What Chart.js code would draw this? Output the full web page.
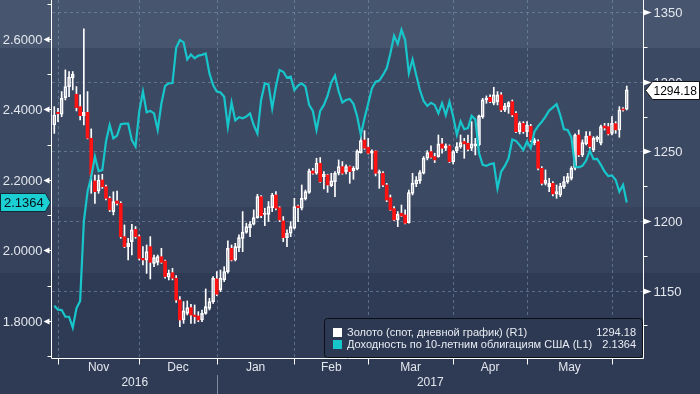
<!DOCTYPE html>
<html><head><meta charset="utf-8">
<script src="https://cdn.jsdelivr.net/npm/chart.js@4.4.1/dist/chart.umd.min.js"></script>
<style>html,body{margin:0;padding:0;background:#2f3b55;overflow:hidden}#wrap{width:700px;height:394px;position:relative}</style>
</head><body><div id="wrap"><canvas id="c" width="700" height="394"></canvas></div>
<script>
const dates = ['2016-10-31',
'2016-11-01','2016-11-02','2016-11-03','2016-11-04','2016-11-07','2016-11-08','2016-11-09','2016-11-10','2016-11-11','2016-11-14','2016-11-15','2016-11-16','2016-11-17','2016-11-18','2016-11-21','2016-11-22','2016-11-23','2016-11-24','2016-11-25','2016-11-28','2016-11-29','2016-11-30',
'2016-12-01','2016-12-02','2016-12-05','2016-12-06','2016-12-07','2016-12-08','2016-12-09','2016-12-12','2016-12-13','2016-12-14','2016-12-15','2016-12-16','2016-12-19','2016-12-20','2016-12-21','2016-12-22','2016-12-23','2016-12-27','2016-12-28','2016-12-29','2016-12-30',
'2017-01-03','2017-01-04','2017-01-05','2017-01-06','2017-01-09','2017-01-10','2017-01-11','2017-01-12','2017-01-13','2017-01-16','2017-01-17','2017-01-18','2017-01-19','2017-01-20','2017-01-23','2017-01-24','2017-01-25','2017-01-26','2017-01-27','2017-01-30','2017-01-31',
'2017-02-01','2017-02-02','2017-02-03','2017-02-06','2017-02-07','2017-02-08','2017-02-09','2017-02-10','2017-02-13','2017-02-14','2017-02-15','2017-02-16','2017-02-17','2017-02-20','2017-02-21','2017-02-22','2017-02-23','2017-02-24','2017-02-27','2017-02-28',
'2017-03-01','2017-03-02','2017-03-03','2017-03-06','2017-03-07','2017-03-08','2017-03-09','2017-03-10','2017-03-13','2017-03-14','2017-03-15','2017-03-16','2017-03-17','2017-03-20','2017-03-21','2017-03-22','2017-03-23','2017-03-24','2017-03-27','2017-03-28','2017-03-29','2017-03-30','2017-03-31',
'2017-04-03','2017-04-04','2017-04-05','2017-04-06','2017-04-07','2017-04-10','2017-04-11','2017-04-12','2017-04-13','2017-04-14','2017-04-17','2017-04-18','2017-04-19','2017-04-20','2017-04-21','2017-04-24','2017-04-25','2017-04-26','2017-04-27','2017-04-28',
'2017-05-01','2017-05-02','2017-05-03','2017-05-04','2017-05-05','2017-05-08','2017-05-09','2017-05-10','2017-05-11','2017-05-12','2017-05-15','2017-05-16','2017-05-17','2017-05-18','2017-05-19','2017-05-22','2017-05-23','2017-05-24','2017-05-25','2017-05-26','2017-05-29','2017-05-30','2017-05-31',
'2017-06-01','2017-06-02','2017-06-05','2017-06-06','2017-06-07'];

const goldOpen = [1269.0,1278.1,1276.7,1288.7,1296.6,1303.0,1291.1,1282.2,1275.7,1278.1,1259.5,1228.8,1221.6,1229.5,1224.7,1216.3,1206.8,1214.4,1212.7,1188.8,1181.6,1185.2,1194.0,
1188.8,1173.2,1172.0,1181.6,1169.6,1170.3,1174.4,1171.3,1159.6,1162.9,1158.9,1143.3,1128.9,1133.7,1137.8,1132.5,1131.8,1128.9,1133.7,1137.3,1142.1,
1158.4,1150.5,1157.7,1163.7,1180.4,1172.0,1180.9,1187.6,1191.9,1195.3,1197.7,1202.4,1217.5,1204.8,1204.8,1209.6,1218.7,1209.6,1200.1,1188.1,1191.2,
1194.8,1210.8,1209.2,1215.9,1220.6,1236.0,1234.3,1241.5,1231.9,1233.1,1225.4,1228.3,1234.3,1239.1,1235.5,1239.1,1236.2,1237.2,1249.2,1258.2,
1253.0,1248.7,1250.3,1234.3,1234.3,1225.9,1216.8,1208.9,1200.8,1205.6,1204.4,1198.9,1219.9,1226.6,1229.0,1234.3,1245.1,1249.9,1246.3,1246.3,1255.4,1252.3,1254.0,
1242.7,1250.6,1253.5,1257.1,1255.9,1252.3,1254.0,1254.7,1275.0,1287.0,1288.9,1284.6,1285.8,1290.6,1279.8,1282.2,1285.8,1277.4,1264.2,1270.2,
1264.2,1268.0,1256.3,1257.1,1237.9,1227.1,1224.7,1227.1,1219.5,1218.7,1224.7,1228.3,1230.7,1237.9,1261.8,1247.5,1255.4,1261.1,1251.1,1258.7,1255.9,1268.3,1267.8,
1263.0,1270.0,1265.4,1280.3,1280.3];
const goldHigh = [1282.2,1281.0,1293.0,1308.6,1307.4,1307.4,1296.6,1290.6,1338.0,1293.0,1266.2,1233.1,1233.1,1233.6,1225.9,1217.5,1221.0,1221.6,1213.9,1197.2,1187.6,1197.7,1196.0,
1190.0,1181.6,1182.8,1188.8,1175.6,1175.6,1180.4,1172.0,1164.8,1166.0,1160.8,1145.7,1142.1,1142.6,1140.2,1139.7,1134.9,1136.1,1151.2,1144.5,1160.1,
1163.7,1164.8,1167.2,1185.7,1182.8,1184.0,1190.0,1206.8,1198.4,1199.6,1208.0,1219.2,1218.3,1209.2,1214.0,1219.9,1221.1,1210.3,1203.2,1193.6,1199.6,
1216.3,1211.5,1225.9,1222.3,1237.4,1237.9,1245.1,1245.6,1235.5,1233.6,1234.3,1235.5,1243.9,1242.7,1240.3,1239.6,1239.1,1251.1,1264.2,1264.9,
1259.4,1251.1,1250.5,1236.7,1235.5,1227.1,1218.7,1210.3,1206.8,1211.5,1208.0,1222.3,1234.3,1231.9,1236.2,1246.3,1250.6,1254.0,1248.7,1261.8,1259.4,1255.4,1254.7,
1250.6,1256.3,1261.8,1259.4,1261.8,1271.4,1259.4,1276.2,1288.2,1289.9,1290.6,1296.1,1293.0,1292.3,1284.6,1285.8,1287.0,1278.6,1271.4,1271.4,
1271.4,1269.5,1259.4,1258.3,1239.1,1236.7,1230.7,1228.3,1225.9,1227.1,1231.9,1234.3,1239.1,1262.6,1265.4,1258.3,1264.2,1264.2,1260.6,1261.1,1269.0,1270.2,1270.2,
1275.0,1271.4,1282.2,1281.5,1297.0];
const goldLow = [1263.0,1271.4,1275.0,1287.0,1289.4,1294.2,1279.1,1272.6,1269.0,1259.0,1219.9,1212.7,1219.9,1223.5,1215.1,1206.8,1204.4,1211.5,1187.6,1180.9,1172.0,1175.6,1187.6,
1172.0,1168.4,1162.4,1158.4,1167.2,1168.4,1169.6,1158.9,1157.7,1157.7,1141.6,1124.1,1126.5,1132.5,1126.5,1126.5,1127.7,1127.7,1133.0,1136.1,1140.9,
1146.4,1149.3,1156.5,1162.5,1171.3,1171.3,1178.0,1178.0,1191.2,1188.8,1197.2,1202.0,1202.4,1196.7,1199.6,1206.8,1208.0,1199.6,1185.2,1181.6,1188.8,
1194.3,1199.6,1208.0,1215.1,1219.9,1233.6,1233.6,1227.8,1223.0,1220.6,1224.7,1217.5,1233.1,1233.6,1233.8,1227.1,1230.0,1236.7,1248.7,1251.5,
1248.2,1237.2,1232.4,1223.5,1224.7,1213.9,1207.5,1200.3,1196.0,1203.2,1197.9,1198.4,1218.7,1224.7,1227.1,1233.8,1243.9,1245.1,1242.0,1245.8,1248.7,1250.6,1242.0,
1241.0,1249.2,1252.3,1245.1,1250.6,1250.6,1247.5,1254.0,1273.8,1284.6,1285.1,1283.5,1283.4,1278.6,1278.6,1277.4,1275.0,1263.5,1262.6,1263.0,
1260.6,1257.0,1254.7,1236.7,1225.9,1225.9,1221.1,1218.0,1216.3,1217.5,1223.5,1227.1,1229.5,1236.7,1246.3,1246.3,1254.7,1252.3,1249.9,1257.1,1254.7,1265.4,1261.8,
1261.8,1263.0,1260.2,1279.0,1279.8];
const goldClose = [1276.2,1277.2,1288.2,1296.6,1303.3,1305.5,1281.5,1275.7,1278.1,1259.5,1233.1,1221.1,1229.5,1224.7,1216.3,1208.0,1214.0,1212.7,1188.8,1181.6,1184.0,1193.6,1188.8,
1173.2,1172.0,1178.0,1170.3,1173.7,1174.4,1170.3,1160.1,1162.5,1158.9,1143.3,1128.9,1135.4,1137.8,1132.5,1131.3,1128.9,1133.7,1138.5,1142.1,1158.9,
1147.4,1158.9,1163.7,1180.4,1172.0,1181.6,1188.1,1191.9,1196.0,1197.7,1202.4,1217.5,1203.9,1205.8,1210.3,1218.7,1209.2,1200.8,1188.1,1191.2,1196.0,
1210.3,1209.6,1216.3,1221.1,1236.0,1234.3,1241.5,1228.3,1233.6,1225.9,1228.8,1234.3,1239.1,1234.3,1239.1,1235.5,1237.9,1250.3,1257.8,1252.3,
1248.7,1250.3,1234.3,1235.5,1225.9,1215.1,1207.9,1200.8,1204.8,1203.6,1198.4,1220.4,1227.1,1229.5,1234.8,1245.1,1249.2,1245.8,1243.9,1255.4,1252.3,1254.0,1242.7,
1249.9,1253.5,1256.3,1255.4,1251.5,1255.4,1255.4,1275.5,1287.0,1288.2,1285.8,1290.6,1290.6,1279.8,1282.7,1285.1,1276.2,1264.2,1270.2,1264.2,
1269.0,1258.0,1258.3,1237.9,1227.1,1229.5,1227.1,1219.5,1221.1,1225.2,1228.3,1231.9,1237.9,1261.8,1247.5,1256.3,1261.1,1253.5,1259.4,1260.1,1267.8,1266.8,1262.6,
1270.2,1265.5,1279.8,1279.8,1294.18];
const yield10 = [1.843,1.832,1.831,1.812,1.812,1.781,1.836,1.857,2.082,2.167,2.209,2.266,2.225,2.228,2.309,2.356,2.318,2.326,2.358,2.360,2.360,2.313,2.295,
2.394,2.451,2.392,2.396,2.389,2.342,2.417,2.467,2.474,2.475,2.575,2.597,2.591,2.542,2.556,2.545,2.553,2.555,2.559,2.503,2.469,
2.451,2.448,2.436,2.351,2.420,2.369,2.378,2.375,2.380,2.389,2.356,2.332,2.427,2.474,2.471,2.403,2.465,2.512,2.507,2.490,2.493,
2.455,2.468,2.474,2.465,2.413,2.396,2.342,2.396,2.413,2.439,2.477,2.496,2.451,2.420,2.427,2.430,2.416,2.381,2.328,2.375,
2.417,2.460,2.479,2.482,2.498,2.517,2.559,2.609,2.586,2.626,2.597,2.503,2.542,2.498,2.455,2.424,2.410,2.419,2.413,2.389,2.418,2.384,2.422,
2.380,2.328,2.366,2.344,2.347,2.382,2.372,2.276,2.243,2.240,2.245,2.247,2.176,2.224,2.240,2.261,2.315,2.311,2.299,2.285,
2.309,2.290,2.337,2.353,2.365,2.380,2.397,2.406,2.415,2.384,2.344,2.342,2.321,2.238,2.236,2.240,2.255,2.283,2.259,2.260,2.243,2.224,2.211,
2.213,2.200,2.167,2.186,2.1364];

const leftTicks = [2.6, 2.4, 2.2, 2.0, 1.8];
const leftMinorTicks = [2.7, 2.5, 2.3, 2.1, 1.9, 1.7];
const rightTicks = [1350, 1300, 1250, 1200, 1150];
const rightMinorTicks = [1325, 1275, 1225, 1175, 1125];
const monthLabels = ['Nov', 'Dec', 'Jan', 'Feb', 'Mar', 'Apr', 'May'];
const yearLabels = ['2016', '2017'];
const seriesNames = ['Золото (спот, дневной график) (R1)', 'Доходность по 10-летним облигациям США (L1)'];
const lastGold = '1294.18';
const lastYield = '2.1364';

// library data built from the arrays
const bodyData = dates.map((d, i) => ({x: i, y: [goldOpen[i], goldClose[i]]}));
const wickHiData = dates.map((d, i) => ({x: i, y: [Math.max(goldOpen[i], goldClose[i]), goldHigh[i]]}));
const wickLoData = dates.map((d, i) => ({x: i, y: [goldLow[i], Math.min(goldOpen[i], goldClose[i])]}));
const lineData = dates.map((d, i) => ({x: i, y: yield10[i]}));
const monthStarts = [];
dates.forEach((d, i) => { if (i > 0 && d.slice(5, 7) !== dates[i - 1].slice(5, 7)) monthStarts.push(i); });
const yearStart = dates.findIndex(d => d.startsWith('2017'));

const FONT = '"Liberation Sans", Arial, sans-serif';
const UP = i => goldClose[i] >= goldOpen[i];
const CYAN = '#17c6cb';
const RED = '#ff1212';

const deco = {
  id: 'deco',
  beforeDraw(chart) {
    const ctx = chart.ctx;
    const bands = [[0, 48, '#47556e'], [48, 207, '#3c4963'], [207, 273, '#36425b'], [273, 394, '#2f3b55']];
    ctx.save();
    bands.forEach(b => { ctx.fillStyle = b[2]; ctx.fillRect(0, b[0], chart.width, b[1] - b[0]); });
    ctx.restore();
  },
  beforeDatasetsDraw(chart) {
    const ctx = chart.ctx, a = chart.chartArea, s = chart.scales;
    ctx.save();
    ctx.strokeStyle = 'rgba(120,145,175,0.6)';
    ctx.lineWidth = 1;
    ctx.setLineDash([3, 3]);
    rightTicks.forEach(v => {
      const y = Math.round(s.yR.getPixelForValue(v)) + 0.5;
      ctx.beginPath(); ctx.moveTo(a.left, y); ctx.lineTo(a.right, y); ctx.stroke();
    });
    monthStarts.forEach(i => {
      const x = Math.round(s.x.getPixelForValue(i)) + 0.5;
      ctx.beginPath(); ctx.moveTo(x, a.top); ctx.lineTo(x, a.bottom); ctx.stroke();
    });
    ctx.restore();
  },
  afterDraw(chart) {
    const ctx = chart.ctx, a = chart.chartArea, s = chart.scales;
    ctx.save();
    ctx.strokeStyle = '#ffffff'; ctx.fillStyle = '#ffffff'; ctx.lineWidth = 1;
    const L = Math.round(a.left) - 0.5, R = Math.round(a.right) + 0.5, B = Math.round(a.bottom) + 0.5;
    // axis lines
    ctx.beginPath(); ctx.moveTo(L, 0); ctx.lineTo(L, B); ctx.lineTo(R, B); ctx.moveTo(R, 0); ctx.lineTo(R, B); ctx.stroke();
    // left axis
    ctx.font = '13px ' + FONT; ctx.textBaseline = 'middle';
    leftMinorTicks.forEach(v => {
      const y = Math.round(s.yL.getPixelForValue(v)) + 0.5;
      ctx.beginPath(); ctx.moveTo(L - 4, y); ctx.lineTo(L, y); ctx.stroke();
    });
    leftTicks.forEach(v => {
      const y = Math.round(s.yL.getPixelForValue(v)) + 0.5;
      ctx.fillStyle = '#ffffff';
      ctx.beginPath(); ctx.moveTo(L - 8, y); ctx.lineTo(L - 2, y - 3); ctx.lineTo(L - 2, y + 3); ctx.closePath(); ctx.fill();
      ctx.beginPath(); ctx.moveTo(L - 3, y); ctx.lineTo(L, y); ctx.stroke();
      ctx.fillStyle = '#e3e7ee'; ctx.textAlign = 'right';
      ctx.fillText(v.toFixed(4), L - 9, y + 1);
    });
    // right axis
    rightMinorTicks.forEach(v => {
      const y = Math.round(s.yR.getPixelForValue(v)) + 0.5;
      ctx.beginPath(); ctx.moveTo(R, y); ctx.lineTo(R + 4, y); ctx.stroke();
    });
    rightTicks.forEach(v => {
      const y = Math.round(s.yR.getPixelForValue(v)) + 0.5;
      ctx.fillStyle = '#ffffff';
      ctx.beginPath(); ctx.moveTo(R, y - 3); ctx.lineTo(R + 8, y); ctx.lineTo(R, y + 3); ctx.closePath(); ctx.fill();
      ctx.fillStyle = '#e3e7ee'; ctx.textAlign = 'left';
      ctx.fillText(String(v), R + 10, y + 1);
    });
    // x axis ticks + labels
    ctx.strokeStyle = '#ffffff';
    const tickX = monthStarts.map(i => s.x.getPixelForValue(i));
    tickX.forEach(x => { const xx = Math.round(x) + 0.5; ctx.beginPath(); ctx.moveTo(xx, B); ctx.lineTo(xx, B + 6); ctx.stroke(); });
    ctx.font = '12px ' + FONT; ctx.textAlign = 'center'; ctx.fillStyle = '#e3e7ee';
    monthLabels.forEach((m, k) => { ctx.fillText(m, (tickX[k] + tickX[k + 1]) / 2, 368); });
    const yx = Math.round(s.x.getPixelForValue(yearStart)) + 0.5;
    ctx.fillText(yearLabels[0], (a.left + yx) / 2, 383);
    ctx.fillText(yearLabels[1], (yx + a.right) / 2, 383);
    ctx.strokeStyle = '#7f8a9c';
    ctx.beginPath(); ctx.moveTo(yx, 375); ctx.lineTo(yx, 394); ctx.stroke();
    // left flag (yield)
    const fy = Math.round(s.yL.getPixelForValue(yield10[yield10.length - 1])) + 0.5;
    ctx.fillStyle = '#1ccfd2'; ctx.strokeStyle = '#0f2a35';
    ctx.beginPath(); ctx.moveTo(0.5, fy - 9); ctx.lineTo(L - 6, fy - 9); ctx.lineTo(L - 1, fy); ctx.lineTo(L - 6, fy + 9); ctx.lineTo(0.5, fy + 9); ctx.closePath(); ctx.fill(); ctx.stroke();
    ctx.fillStyle = '#06121c'; ctx.font = '13px ' + FONT; ctx.textAlign = 'left';
    ctx.fillText(lastYield, 4, fy + 1);
    // right flag (gold)
    const gy = Math.round(s.yR.getPixelForValue(goldClose[goldClose.length - 1])) + 0.5;
    ctx.fillStyle = '#ffffff'; ctx.strokeStyle = '#111111';
    ctx.beginPath(); ctx.moveTo(R + 2, gy); ctx.lineTo(R + 9, gy - 9); ctx.lineTo(699.5, gy - 9); ctx.lineTo(699.5, gy + 9); ctx.lineTo(R + 9, gy + 9); ctx.closePath(); ctx.fill(); ctx.stroke();
    ctx.fillStyle = '#000000'; ctx.font = '12px ' + FONT;
    ctx.fillText(lastGold, R + 10, gy + 1);
    // legend box
    const lx = 324.5, ly = 318.5, lw = 318, lh = 39;
    ctx.fillStyle = '#2d3953'; ctx.strokeStyle = '#0b0f16';
    ctx.beginPath(); ctx.roundRect(lx, ly, lw, lh, 3); ctx.fill(); ctx.stroke();
    ctx.font = '11px ' + FONT; ctx.textBaseline = 'middle';
    const rows = [[seriesNames[0], lastGold, '#ffffff', 332], [seriesNames[1], lastYield, CYAN, 344]];
    rows.forEach(r => {
      ctx.fillStyle = r[2]; ctx.fillRect(333, r[3] - 4, 9, 9);
      ctx.fillStyle = '#e8ecf2'; ctx.textAlign = 'left'; ctx.fillText(r[0], 347, r[3] + 1);
      ctx.textAlign = 'right'; ctx.fillText(r[1], 636, r[3] + 1);
    });
    ctx.restore();
  }
};

new Chart(document.getElementById('c'), {
  type: 'bar',
  data: {
    datasets: [
      { type: 'line', data: lineData, xAxisID: 'x', yAxisID: 'yL', borderColor: CYAN, borderWidth: 2.2, pointRadius: 0, tension: 0, order: 0 },
      { data: bodyData, xAxisID: 'x', yAxisID: 'yR', grouped: false, barThickness: 3, minBarLength: 1, borderSkipped: false,
        backgroundColor: c => (c.dataIndex === undefined || UP(c.dataIndex)) ? 'rgba(0,0,0,0)' : RED,
        borderColor: c => (c.dataIndex === undefined || UP(c.dataIndex)) ? '#ffffff' : RED,
        borderWidth: c => (c.dataIndex === undefined || UP(c.dataIndex)) ? 1 : 0, order: 1 },
      { data: wickHiData, xAxisID: 'x', yAxisID: 'yR', grouped: false, barThickness: 1, backgroundColor: '#ffffff', borderWidth: 0, order: 2 },
      { data: wickLoData, xAxisID: 'x', yAxisID: 'yR', grouped: false, barThickness: 1, backgroundColor: '#ffffff', borderWidth: 0, order: 2 }
    ]
  },
  options: {
    responsive: false, animation: false, events: [],
    layout: { padding: { left: 52, right: 57, top: 0, bottom: 36 } },
    plugins: { legend: { display: false }, tooltip: { enabled: false } },
    scales: {
      x: { type: 'linear', min: -0.62, max: 159.4, display: false, offset: false },
      yL: { type: 'linear', position: 'left', min: 1.695, max: 2.7106, display: false },
      yR: { type: 'linear', position: 'right', min: 1101.6, max: 1358.8, display: false }
    }
  },
  plugins: [deco]
});
</script>
</body></html>
